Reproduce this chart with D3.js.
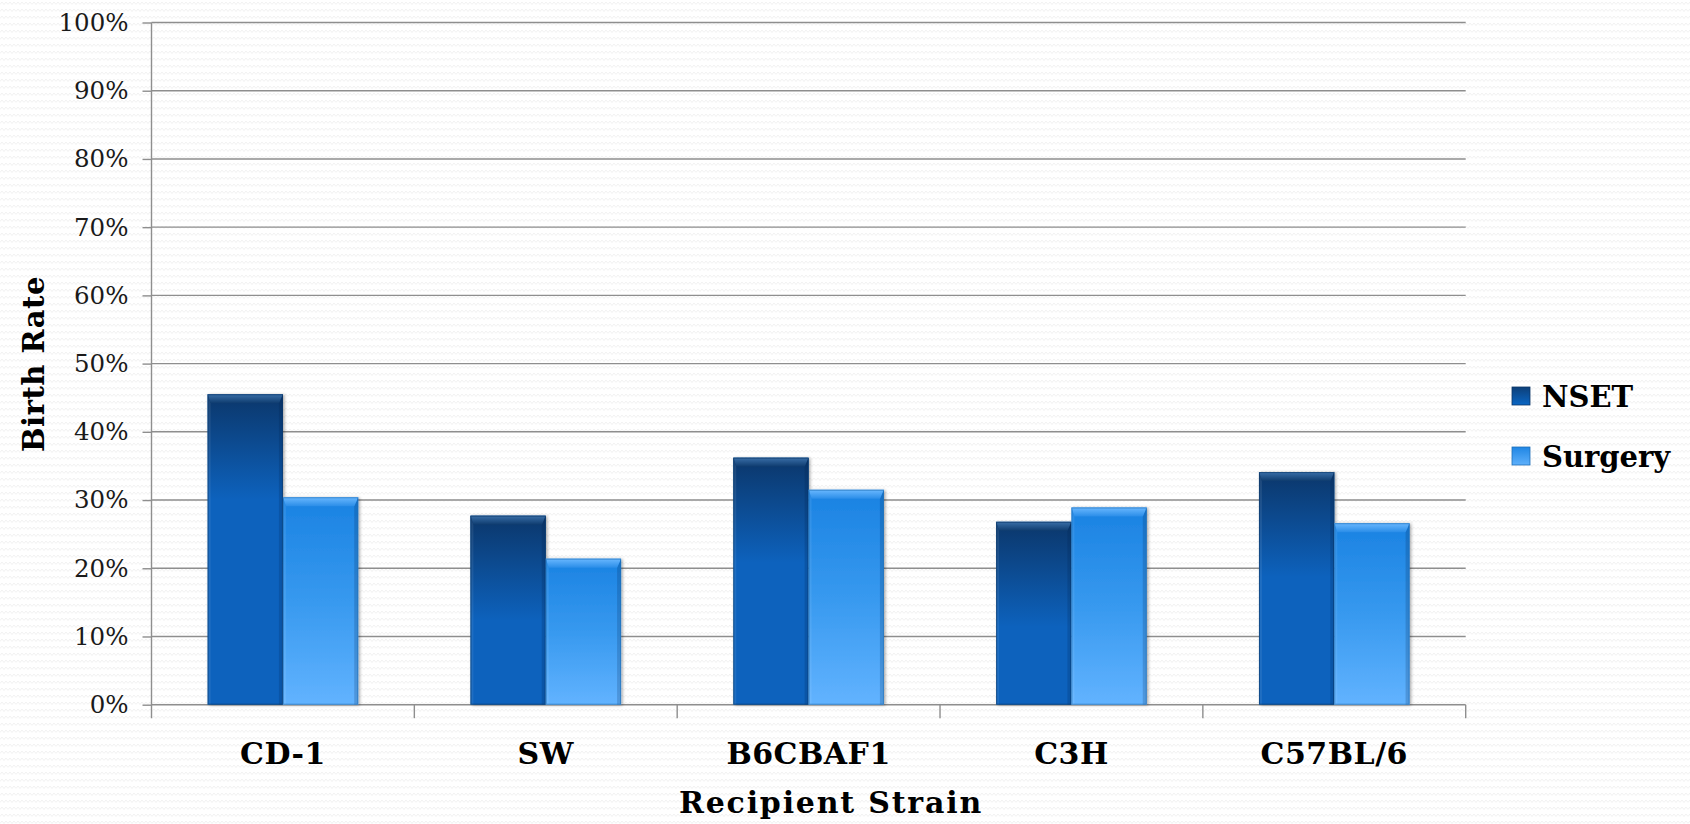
<!DOCTYPE html>
<html>
<head>
<meta charset="utf-8">
<script src="https://cdn.jsdelivr.net/npm/d3@7"></script>
<style>
  html, body { margin: 0; padding: 0; background: #fff; }
  svg { display: block; font-family: "DejaVu Serif", serif; }
</style>
</head>
<body>
<svg id="chart" width="1690" height="824"></svg>
<script>
// data
var categories = ["CD-1", "SW", "B6CBAF1", "C3H", "C57BL/6"];
var seriesNames = ["NSET", "Surgery"];
var nsetValues = [0.455, 0.277, 0.362, 0.268, 0.341];
var surgeryValues = [0.304, 0.214, 0.315, 0.289, 0.266];
var yTicks = [0, 0.1, 0.2, 0.3, 0.4, 0.5, 0.6, 0.7, 0.8, 0.9, 1.0];

var rows = categories.map(function (c, i) {
  return { cat: c, NSET: nsetValues[i], Surgery: surgeryValues[i] };
});

var svg = d3.select("#chart");
var W = +svg.attr("width"), H = +svg.attr("height");

var pL = 151.5, pR = 1465.7, pT = 22.5, pB = 704.7;

var x0 = d3.scaleBand().domain(categories).range([pL, pR]).padding(0);
var x1 = d3.scaleBand().domain(seriesNames).range([0, x0.bandwidth()])
  .paddingInner(0).paddingOuter(0.745);
var y = d3.scaleLinear().domain([0, 1]).range([pB, pT]);

var defs = svg.append("defs");

// faint zigzag background texture
var pat = defs.append("pattern").attr("id", "bgpat")
  .attr("patternUnits", "userSpaceOnUse").attr("width", 8).attr("height", 7);
pat.append("rect").attr("width", 8).attr("height", 7).attr("fill", "#fff");
pat.append("path").attr("d", "M0,4.5 L2,2 L4,4.5 L6,2 L8,4.5")
  .attr("fill", "none").attr("stroke", "#f2f2f2").attr("stroke-width", 1);
svg.append("rect").attr("width", W).attr("height", H).attr("fill", "url(#bgpat)");

function grad(id, stops) {
  var g = defs.append("linearGradient").attr("id", id)
    .attr("x1", 0).attr("y1", 0).attr("x2", 0).attr("y2", 1);
  stops.forEach(function (s) {
    g.append("stop").attr("offset", s[0]).attr("stop-color", s[1])
      .attr("stop-opacity", s[2] == null ? 1 : s[2]);
  });
}
grad("surgFill", [[0, "#1a82e2"], [0.5, "#3799ef"], [1, "#62b3ff"]]);
grad("nsetShade", [[0, "#0b2f5c", 0.85], [1, "#0b2f5c", 0]]);
grad("nsetBevel", [[0, "#3a6fa8"], [1, "#0e3b6e"]]);
grad("surgBevel", [[0, "#6ab8ff"], [1, "#2a8de8"]]);
grad("legN", [[0, "#0d3f78"], [1, "#0a66c4"]]);
grad("legS", [[0, "#1f86e4"], [1, "#5eb0fb"]]);

var shadow = defs.append("filter").attr("id", "shadow")
  .attr("x", "-10%").attr("y", "-10%").attr("width", "130%").attr("height", "120%");
shadow.append("feDropShadow").attr("dx", 1.5).attr("dy", 0.5)
  .attr("stdDeviation", 1.6).attr("flood-color", "#000").attr("flood-opacity", 0.35);

// gridlines
svg.append("g").selectAll("line").data(yTicks).enter().append("line")
  .attr("x1", pL).attr("x2", pR)
  .attr("y1", function (d) { return y(d); }).attr("y2", function (d) { return y(d); })
  .attr("stroke", "#8e8e8e").attr("stroke-width", 1.4);

// y axis
var yAxis = svg.append("g").attr("transform", "translate(" + pL + ",0)")
  .call(d3.axisLeft(y).tickValues(yTicks).tickFormat(d3.format(".0%"))
    .tickSize(9).tickPadding(14));
yAxis.select(".domain").remove();
yAxis.selectAll(".tick line").attr("stroke", "#8e8e8e").attr("stroke-width", 1.4);
yAxis.selectAll(".tick text").attr("font-family", "DejaVu Serif").attr("font-size", 24.5)
  .attr("fill", "#1a1a1a");
svg.append("line").attr("x1", pL).attr("x2", pL).attr("y1", pT).attr("y2", pB + 13.5)
  .attr("stroke", "#8e8e8e").attr("stroke-width", 1.4);

// category boundary ticks
var bounds = categories.map(function (c) { return x0(c); }).concat([pR]);
svg.append("g").selectAll("line").data(bounds.slice(1)).enter().append("line")
  .attr("x1", function (d) { return d; }).attr("x2", function (d) { return d; })
  .attr("y1", pB).attr("y2", pB + 13.5)
  .attr("stroke", "#8e8e8e").attr("stroke-width", 1.4);

// bars
var bev = 9, side = 3;
var groups = svg.append("g").selectAll("g").data(rows).enter().append("g")
  .attr("transform", function (d) { return "translate(" + x0(d.cat) + ",0)"; });

var bars = groups.selectAll("g.bar").data(function (d) {
  return seriesNames.map(function (s) { return { key: s, value: d[s] }; });
}).enter().append("g").attr("class", "bar");

bars.each(function (d) {
  var g = d3.select(this);
  var bx = x1(d.key), bw = x1.bandwidth();
  var by = y(d.value), bh = y(0) - y(d.value);
  var nset = d.key === "NSET";
  g.append("rect").attr("x", bx).attr("y", by).attr("width", bw).attr("height", bh)
    .attr("fill", nset ? "#0862bd" : "url(#surgFill)")
    .attr("filter", "url(#shadow)");
  if (nset) {
    g.append("rect").attr("x", bx).attr("y", by).attr("width", bw)
      .attr("height", Math.min(bh, 105)).attr("fill", "url(#nsetShade)");
  }
  // side bevels
  g.append("path").attr("d", "M" + bx + "," + by + "L" + (bx + side) + "," + (by + bev) +
      "L" + (bx + side) + "," + (by + bh) + "L" + bx + "," + (by + bh) + "Z")
    .attr("fill", "#fff").attr("fill-opacity", 0.08);
  g.append("path").attr("d", "M" + (bx + bw) + "," + by + "L" + (bx + bw - side - 1) + "," + (by + bev) +
      "L" + (bx + bw - side - 1) + "," + (by + bh) + "L" + (bx + bw) + "," + (by + bh) + "Z")
    .attr("fill", "#001a40").attr("fill-opacity", 0.18);
  // top bevel
  g.append("path").attr("d", "M" + bx + "," + by + "L" + (bx + bw) + "," + by +
      "L" + (bx + bw - side - 1) + "," + (by + bev) + "L" + (bx + side) + "," + (by + bev) + "Z")
    .attr("fill", nset ? "url(#nsetBevel)" : "url(#surgBevel)");
  g.append("rect").attr("x", bx + 0.5).attr("y", by + 0.5).attr("width", bw - 1).attr("height", bh - 1)
    .attr("fill", "none").attr("stroke", nset ? "#0a3566" : "#1f6fb8").attr("stroke-opacity", 0.6);
});

// category labels
svg.append("g").selectAll("text").data(categories).enter().append("text")
  .attr("x", function (c) { return x0(c) + x0.bandwidth() / 2; }).attr("y", 764)
  .attr("text-anchor", "middle").attr("font-weight", "bold").attr("font-size", 30)
  .attr("letter-spacing", 0.5).attr("fill", "#000").text(function (c) { return c; });

// axis titles
svg.append("text").attr("x", 831).attr("y", 813).attr("text-anchor", "middle")
  .attr("font-weight", "bold").attr("font-size", 30).attr("letter-spacing", 1.8)
  .attr("fill", "#000").text("Recipient Strain");
svg.append("text").attr("transform", "translate(44,364) rotate(-90)")
  .attr("text-anchor", "middle").attr("font-weight", "bold").attr("font-size", 29)
  .attr("letter-spacing", 0.5).attr("fill", "#000").text("Birth Rate");

// legend
var legend = svg.append("g").selectAll("g").data(seriesNames).enter().append("g")
  .attr("transform", function (d, i) { return "translate(1512," + (396 + i * 60) + ")"; });
legend.append("rect").attr("x", 0).attr("y", -9).attr("width", 18).attr("height", 18)
  .attr("fill", function (d) { return d === "NSET" ? "url(#legN)" : "url(#legS)"; })
  .attr("stroke", function (d) { return d === "NSET" ? "#0a3566" : "#1f6fb8"; })
  .attr("stroke-width", 0.8);
legend.append("text").attr("x", 30).attr("y", 11).attr("font-weight", "bold")
  .attr("font-size", 29).attr("fill", "#000").text(function (d) { return d; });
</script>
</body>
</html>
